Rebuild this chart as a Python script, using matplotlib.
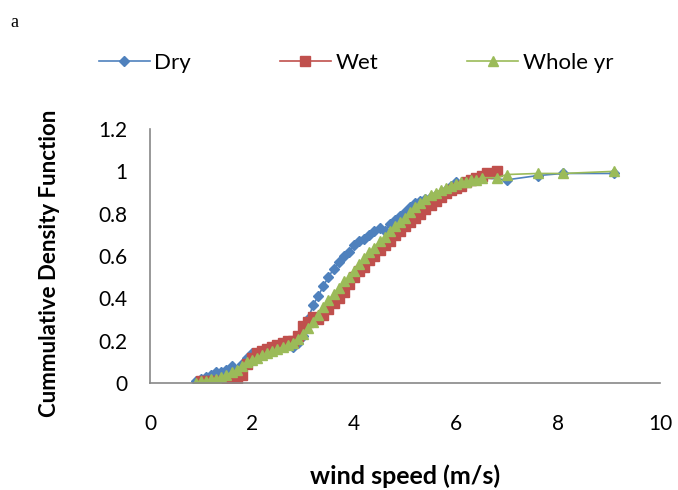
import matplotlib
matplotlib.use("Agg")
import matplotlib.pyplot as plt

# dados (velocidade do vento x CDF)
dry_x = [0.9, 1.0, 1.1, 1.2, 1.3, 1.4, 1.5, 1.6, 1.7, 1.8, 1.9, 2.0, 2.1, 2.2, 2.3,
         2.4, 2.5, 2.6, 2.7, 2.8, 2.9, 3.0, 3.1, 3.2, 3.3, 3.4, 3.5, 3.6, 3.7, 3.8,
         3.9, 4.0, 4.1, 4.2, 4.3, 4.4, 4.5, 4.6, 4.7, 4.8, 4.9, 5.0, 5.1, 5.2, 5.3,
         5.4, 5.5, 5.6, 5.7, 5.8, 5.9, 6.0, 6.5, 7.0, 7.6, 8.1, 9.1]
dry_y = [0.01, 0.02, 0.03, 0.04, 0.05, 0.05, 0.06, 0.08, 0.05, 0.09, 0.12, 0.14, 0.14, 0.15, 0.15,
         0.16, 0.16, 0.17, 0.18, 0.17, 0.19, 0.22, 0.30, 0.37, 0.41, 0.46, 0.50, 0.54, 0.57, 0.60,
         0.62, 0.65, 0.67, 0.68, 0.70, 0.72, 0.73, 0.72, 0.75, 0.77, 0.79, 0.81, 0.83, 0.85, 0.86,
         0.87, 0.88, 0.89, 0.90, 0.91, 0.93, 0.95, 0.97, 0.96, 0.98, 0.99, 0.99]

wet_x = [1.0, 1.1, 1.2, 1.3, 1.4, 1.5, 1.6, 1.7, 1.8, 1.9, 2.0, 2.1, 2.2, 2.3, 2.4,
         2.5, 2.6, 2.7, 2.8, 2.9, 3.0, 3.1, 3.2, 3.3, 3.4, 3.5, 3.6, 3.7, 3.8, 3.9,
         4.0, 4.1, 4.2, 4.3, 4.4, 4.5, 4.6, 4.7, 4.8, 4.9, 5.0, 5.1, 5.2, 5.3, 5.4,
         5.5, 5.6, 5.7, 5.8, 5.9, 6.0, 6.1, 6.2, 6.3, 6.4, 6.5, 6.6, 6.8]
wet_y = [0.01, 0.01, 0.01, 0.01, 0.01, 0.01, 0.01, 0.02, 0.04, 0.09, 0.12, 0.14, 0.15, 0.16, 0.17,
         0.18, 0.19, 0.20, 0.20, 0.22, 0.27, 0.29, 0.31, 0.30, 0.32, 0.35, 0.38, 0.40, 0.43, 0.47,
         0.50, 0.53, 0.55, 0.58, 0.60, 0.63, 0.65, 0.67, 0.70, 0.72, 0.74, 0.76, 0.78, 0.80, 0.82,
         0.84, 0.86, 0.88, 0.90, 0.91, 0.92, 0.93, 0.95, 0.96, 0.97, 0.98, 0.99, 1.00]

whole_x = [0.9, 1.0, 1.1, 1.2, 1.3, 1.4, 1.5, 1.6, 1.7, 1.8, 1.9, 2.0, 2.1, 2.2, 2.3,
           2.4, 2.5, 2.6, 2.7, 2.8, 2.9, 3.0, 3.1, 3.2, 3.3, 3.4, 3.5, 3.6, 3.7, 3.8,
           3.9, 4.0, 4.1, 4.2, 4.3, 4.4, 4.5, 4.6, 4.7, 4.8, 4.9, 5.0, 5.1, 5.2, 5.3,
           5.4, 5.5, 5.6, 5.7, 5.8, 5.9, 6.0, 6.1, 6.2, 6.3, 6.4, 6.5, 6.8, 7.0, 7.6,
           8.1, 9.1]
whole_y = [0.00, 0.01, 0.01, 0.02, 0.02, 0.03, 0.04, 0.05, 0.06, 0.08, 0.10, 0.11, 0.12, 0.13, 0.14,
           0.15, 0.16, 0.17, 0.18, 0.19, 0.21, 0.23, 0.26, 0.29, 0.32, 0.36, 0.39, 0.42, 0.45, 0.48,
           0.50, 0.53, 0.56, 0.59, 0.62, 0.64, 0.67, 0.69, 0.72, 0.74, 0.76, 0.78, 0.81, 0.83, 0.85,
           0.87, 0.89, 0.90, 0.91, 0.92, 0.93, 0.94, 0.95, 0.95, 0.96, 0.96, 0.97, 0.97, 0.985, 0.99,
           0.99, 1.00]

x_ticks = [0, 2, 4, 6, 8, 10]
y_ticks = [0, 0.2, 0.4, 0.6, 0.8, 1, 1.2]
y_labels = ["0", "0.2", "0.4", "0.6", "0.8", "1", "1.2"]

plt.rcParams['font.family'] = ['Lato', 'DejaVu Sans']

fig = plt.figure(figsize=(6.78, 4.9), dpi=100)
ax = fig.add_axes([0.2212, 0.2184, 0.7523, 0.5183])

ax.plot(dry_x, dry_y, color='#4F81BD', marker='D', markersize=5, lw=1.2, label='Dry')
ax.plot(wet_x, wet_y, color='#C0504D', marker='s', markersize=6.5, lw=1.2, label='Wet')
ax.plot(whole_x, whole_y, color='#9BBB59', marker='^', markersize=7, lw=1.2, label='Whole yr')

ax.set_xlim(0, 10)
ax.set_ylim(0, 1.2)
ax.set_xticks(x_ticks)
ax.set_yticks(y_ticks)
ax.set_yticklabels(y_labels)
ax.tick_params(length=0, labelsize=15)
ax.tick_params(axis='y', pad=16)
ax.tick_params(axis='x', pad=22)

for s in ['top', 'right']:
    ax.spines[s].set_visible(False)
for s in ['left', 'bottom']:
    ax.spines[s].set_color('#888888')
    ax.spines[s].set_linewidth(1.2)

ax.set_xlabel('wind speed (m/s)', fontsize=18, fontweight='bold', labelpad=22)
ax.set_ylabel('Cummulative Density Function', fontsize=16, fontweight='bold')
ax.yaxis.set_label_coords(-0.177, 0.47)

fig.legend(loc='center', bbox_to_anchor=(0.525, 0.871), ncol=3, frameon=False,
           fontsize=16, handlelength=2.3, columnspacing=4.0, handletextpad=0.2)

fig.text(0.015, 0.955, 'a', fontsize=13, family='Liberation Serif', va='center')

fig.savefig('out.png', dpi=100)
